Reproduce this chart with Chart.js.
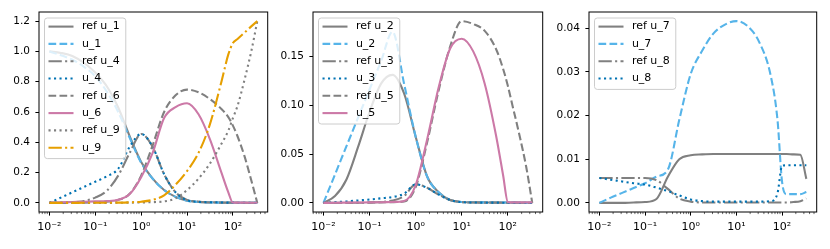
<!DOCTYPE html>
<html>
<head>
<meta charset="utf-8">
<script src="https://cdn.jsdelivr.net/npm/chart.js@4.4.1/dist/chart.umd.min.js"></script>
<style>
  html, body { margin: 0; padding: 0; background: #fff; }
  #wrap { position: relative; width: 830px; height: 249px; overflow: hidden; }
  .panel { position: absolute; top: 0; width: 280px; height: 249px; }
</style>
</head>
<body>
<div id="wrap">
  <div class="panel" style="left:0px"><canvas id="c1" width="280" height="249"></canvas></div>
  <div class="panel" style="left:274px"><canvas id="c2" width="280" height="249"></canvas></div>
  <div class="panel" style="left:550px"><canvas id="c3" width="280" height="249"></canvas></div>
</div>
<script>
// shared x grid (log spaced, quarter decades + a few extra points near 100)
const xValues = [0.01, 0.0178, 0.0316, 0.0562, 0.1, 0.178, 0.316, 0.562, 1, 1.78, 3.16, 5.62,
                 10, 17.8, 31.6, 56.2, 79.4, 100, 126, 178, 251, 340];
const xTicks = [0.01, 0.1, 1, 10, 100];
const xTickLabels = ['10⁻²', '10⁻¹', '10⁰', '10¹', '10²'];

// panel 1
const refU1 = [1.0, 0.99, 0.97, 0.925, 0.86, 0.77, 0.63, 0.44, 0.27, 0.16, 0.085, 0.04, 0.015, 0.007, 0.004, 0.003, 0.003, 0.002, 0.002, 0.001, 0.001, 0];
const u1 = [1.0, 0.975, 0.945, 0.9, 0.835, 0.735, 0.6, 0.43, 0.265, 0.16, 0.085, 0.04, 0.015, 0.006, 0.003, 0.002, 0.002, 0.001, 0.001, 0.001, 0, 0];
const refU4 = [0, 0.001, 0.003, 0.012, 0.035, 0.08, 0.18, 0.33, 0.455, 0.37, 0.19, 0.07, 0.02, 0.008, 0.003, 0.002, 0.001, 0.001, 0.001, 0.001, 0, 0];
const u4 = [0, 0.035, 0.07, 0.105, 0.14, 0.175, 0.225, 0.37, 0.455, 0.37, 0.19, 0.07, 0.018, 0.007, 0.004, 0.003, 0.002, 0.002, 0.001, 0.001, 0.001, 0];
const refU6 = [0, 0, 0.001, 0.002, 0.004, 0.008, 0.02, 0.06, 0.18, 0.38, 0.6, 0.71, 0.748, 0.73, 0.685, 0.62, 0.566, 0.51, 0.44, 0.31, 0.15, 0];
const u6 = [0.002, 0.004, 0.006, 0.008, 0.01, 0.012, 0.02, 0.058, 0.17, 0.33, 0.56, 0.632, 0.658, 0.585, 0.42, 0.2, 0.07, 0.002, 0.002, 0.002, 0.001, 0.001];
const refU9 = [0, 0, 0, 0, 0, 0, 0.001, 0.002, 0.003, 0.005, 0.01, 0.03, 0.085, 0.16, 0.26, 0.39, 0.477, 0.56, 0.64, 0.81, 1.0, 1.2];
const u9 = [0, 0, 0, 0.001, 0.001, 0.001, 0.002, 0.004, 0.008, 0.02, 0.05, 0.12, 0.21, 0.33, 0.52, 0.8, 0.98, 1.055, 1.082, 1.123, 1.165, 1.2];

// panel 2
const refU2 = [0, 0.007, 0.024, 0.057, 0.093, 0.122, 0.131, 0.112, 0.068, 0.027, 0.011, 0.003, 0.001, 0.0006, 0.0005, 0.0004, 0.0004, 0.0003, 0.0003, 0.0002, 0.0001, 0];
const u2 = [0, 0.029, 0.058, 0.087, 0.116, 0.145, 0.175, 0.122, 0.068, 0.027, 0.011, 0.003, 0.001, 0.0006, 0.0005, 0.0004, 0.0004, 0.0003, 0.0003, 0.0002, 0.0001, 0];
const refU3 = [0, 0, 0.0001, 0.0002, 0.0005, 0.001, 0.0025, 0.007, 0.019, 0.0155, 0.0085, 0.003, 0.0008, 0.0004, 0.0003, 0.0003, 0.0002, 0.0002, 0.0002, 0.0001, 0.0001, 0];
const u3 = [0, 0.0007, 0.0015, 0.0025, 0.0035, 0.0047, 0.006, 0.0095, 0.019, 0.0155, 0.0085, 0.003, 0.0008, 0.0004, 0.0003, 0.0003, 0.0002, 0.0002, 0.0002, 0.0001, 0.0001, 0];
const refU5 = [0, 0, 0, 0.0001, 0.0003, 0.0005, 0.0008, 0.0015, 0.016, 0.062, 0.115, 0.16, 0.186, 0.183, 0.176, 0.157, 0.137, 0.12, 0.1, 0.07, 0.037, 0];
const u5 = [0, 0.0002, 0.0003, 0.0004, 0.0005, 0.0007, 0.001, 0.002, 0.018, 0.065, 0.118, 0.158, 0.168, 0.155, 0.122, 0.068, 0.028, 0.001, 0.0005, 0.0005, 0.0005, 0.0005];

// panel 3
const refU7 = [0, 0, 0, 0.0001, 0.0002, 0.0009, 0.006, 0.0100, 0.0109, 0.0111, 0.0112, 0.0112, 0.0112, 0.0112, 0.0112, 0.0112, 0.0112, 0.0112, 0.0112, 0.0111, 0.0110, 0.0055];
const u7 = [0, 0.0012, 0.0023, 0.0034, 0.0045, 0.006, 0.0076, 0.019, 0.0295, 0.0348, 0.0388, 0.0408, 0.0416, 0.0404, 0.0368, 0.0292, 0.019, 0.0048, 0.002, 0.002, 0.002, 0.0025];
const refU8 = [0.0057, 0.0057, 0.0057, 0.0057, 0.0057, 0.0052, 0.0032, 0.001, 0.0003, 0.0001, 0.0001, 0.0001, 0.0001, 0.0001, 0.0001, 0.0001, 0.0001, 0.0001, 0.0001, 0.0002, 0.0004, 0.001];
const u8 = [0.0057, 0.0053, 0.0049, 0.0045, 0.0042, 0.0035, 0.0027, 0.0017, 0.0008, 0.0004, 0.0003, 0.0003, 0.0003, 0.0003, 0.0003, 0.0004, 0.0022, 0.0085, 0.0086, 0.0086, 0.0086, 0.0086];

const yTicks1 = [0, 0.2, 0.4, 0.6, 0.8, 1.0, 1.2];
const yTicks2 = [0, 0.05, 0.10, 0.15];
const yTicks3 = [0, 0.01, 0.02, 0.03, 0.04];

// styles
const GREY = '#808080', SKY = '#56B4E9', BLUE = '#0072B2', PINK = '#CC79A7', ORANGE = '#E69F00';
const SOLID = [], DASHED = [7.7, 3.3], DOTTED = [2.1, 3.4], DASHDOT = [13.3, 3.3, 2.1, 3.3];
const FONT = 'DejaVu Sans';

const spines = {
    id: 'spines',
    afterDraw(chart) {
        const { ctx, chartArea: a } = chart;
        const xs = chart.scales.x;
        ctx.save();
        // minor log ticks
        ctx.strokeStyle = '#000';
        ctx.lineWidth = 0.6;
        for (let d = -3; d <= 3; d++) {
            for (let k = 2; k <= 9; k++) {
                const v = k * Math.pow(10, d);
                if (v < xs.min || v > xs.max) continue;
                const px = xs.getPixelForValue(v);
                ctx.beginPath();
                ctx.moveTo(px, a.bottom);
                ctx.lineTo(px, a.bottom + 2.1);
                ctx.stroke();
            }
        }
        ctx.lineWidth = 1;
        ctx.strokeRect(a.left, a.top, a.right - a.left, a.bottom - a.top);
        ctx.restore();
    }
};

const insideLegend = {
    id: 'insideLegend',
    afterDatasetsDraw(chart) {
        const { ctx, chartArea } = chart;
        const sets = chart.data.datasets;
        ctx.save();
        ctx.font = '11px "' + FONT + '"';
        const textW = Math.max(...sets.map(d => ctx.measureText(d.label).width));
        const left = chartArea.left + 5.5, top = chartArea.top + 6;
        const w = 37.4 + textW + 6, h = 8.6 + (sets.length - 1) * 17.3 + 10.9;
        ctx.beginPath();
        ctx.roundRect(left, top, w, h, 2.8);
        ctx.fillStyle = 'rgba(255,255,255,0.8)';
        ctx.fill();
        ctx.strokeStyle = '#cccccc';
        ctx.lineWidth = 1;
        ctx.stroke();
        sets.forEach((d, i) => {
            const y = top + 8.6 + i * 17.3;
            ctx.beginPath();
            ctx.setLineDash(d.borderDash);
            ctx.strokeStyle = d.borderColor;
            ctx.lineWidth = d.borderWidth;
            ctx.moveTo(left + 4, y);
            ctx.lineTo(left + 29, y);
            ctx.stroke();
            ctx.setLineDash([]);
            ctx.fillStyle = '#000';
            ctx.textBaseline = 'middle';
            ctx.fillText(d.label, left + 37.4, y);
        });
        ctx.restore();
    }
};

function createPanel(id, series, yTicks, decimals, padRight) {
    const all = series.flatMap(s => s.values);
    const lo = Math.min(...all), hi = Math.max(...all);
    const pad = (hi - lo) * 0.05;
    const lmin = Math.log10(xValues[0]), lmax = Math.log10(xValues[xValues.length - 1]);
    const lpad = (lmax - lmin) * 0.05;

    new Chart(document.getElementById(id).getContext('2d'), {
        type: 'line',
        data: {
            datasets: series.map((s, i) => ({
                label: s.label,
                data: xValues.map((x, j) => ({ x: x, y: s.values[j] })),
                borderColor: s.color,
                borderDash: s.dash,
                borderWidth: 2.1,
                pointRadius: 0,
                fill: false,
                cubicInterpolationMode: 'monotone',
                order: -i
            }))
        },
        options: {
            responsive: false,
            animation: false,
            events: [],
            layout: { padding: { left: 0, top: 12, right: padRight, bottom: 0 } },
            plugins: { legend: { display: false }, tooltip: { enabled: false } },
            scales: {
                x: {
                    type: 'logarithmic',
                    min: Math.pow(10, lmin - lpad),
                    max: Math.pow(10, lmax + lpad),
                    afterBuildTicks: s => { s.ticks = xTicks.map(v => ({ value: v })); },
                    afterFit: s => { s.height = 37; },
                    ticks: {
                        callback: v => xTickLabels[xTicks.indexOf(v)],
                        color: '#000',
                        font: { family: FONT, size: 11 },
                        padding: 5,
                        maxRotation: 0,
                        autoSkip: false
                    },
                    grid: { drawOnChartArea: false, tickLength: 3.6, tickWidth: 1, tickColor: '#000' },
                    border: { display: false }
                },
                y: {
                    type: 'linear',
                    min: lo - pad,
                    max: hi + pad,
                    afterBuildTicks: s => { s.ticks = yTicks.map(v => ({ value: v })); },
                    afterFit: s => { s.width = 39; },
                    ticks: {
                        callback: v => v.toFixed(decimals),
                        color: '#000',
                        font: { family: FONT, size: 10.5 },
                        padding: 5.5
                    },
                    grid: { drawOnChartArea: false, tickLength: 3.6, tickWidth: 1, tickColor: '#000' },
                    border: { display: false }
                }
            }
        },
        plugins: [insideLegend, spines]
    });
}

createPanel('c1', [
    { label: 'ref u_1', values: refU1, color: GREY, dash: SOLID },
    { label: 'u_1', values: u1, color: SKY, dash: DASHED },
    { label: 'ref u_4', values: refU4, color: GREY, dash: DASHDOT },
    { label: 'u_4', values: u4, color: BLUE, dash: DOTTED },
    { label: 'ref u_6', values: refU6, color: GREY, dash: DASHED },
    { label: 'u_6', values: u6, color: PINK, dash: SOLID },
    { label: 'ref u_9', values: refU9, color: GREY, dash: DOTTED },
    { label: 'u_9', values: u9, color: ORANGE, dash: DASHDOT }
], yTicks1, 1, 12.3);

createPanel('c2', [
    { label: 'ref u_2', values: refU2, color: GREY, dash: SOLID },
    { label: 'u_2', values: u2, color: SKY, dash: DASHED },
    { label: 'ref u_3', values: refU3, color: GREY, dash: DASHDOT },
    { label: 'u_3', values: u3, color: BLUE, dash: DOTTED },
    { label: 'ref u_5', values: refU5, color: GREY, dash: DASHED },
    { label: 'u_5', values: u5, color: PINK, dash: SOLID }
], yTicks2, 2, 11.3);

createPanel('c3', [
    { label: 'ref u_7', values: refU7, color: GREY, dash: SOLID },
    { label: 'u_7', values: u7, color: SKY, dash: DASHED },
    { label: 'ref u_8', values: refU8, color: GREY, dash: DASHDOT },
    { label: 'u_8', values: u8, color: BLUE, dash: DOTTED }
], yTicks3, 2, 13.3);
</script>
</body>
</html>
